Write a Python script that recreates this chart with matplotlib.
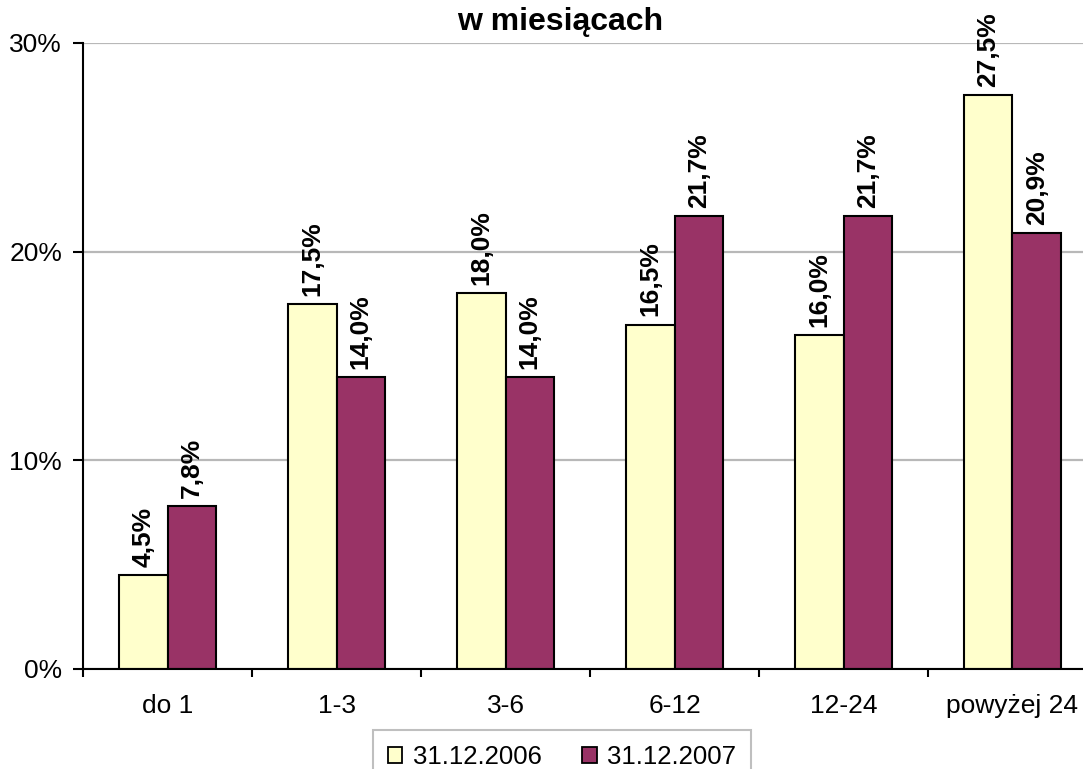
import matplotlib
matplotlib.use("Agg")
import matplotlib.pyplot as plt
import numpy as np

categories = ["do 1", "1-3", "3-6", "6-12", "12-24", "powyżej 24"]
series_names = ["31.12.2006", "31.12.2007"]
values_2006 = [4.5, 17.5, 18.0, 16.5, 16.0, 27.5]
values_2007 = [7.8, 14.0, 14.0, 21.7, 21.7, 20.9]
yticks = [0, 10, 20, 30]
ytick_labels = ["0%", "10%", "20%", "30%"]

plt.rcParams['font.family'] = ['Liberation Sans', 'DejaVu Sans']

W, H = 1083, 769
fig = plt.figure(figsize=(W / 100, H / 100), dpi=100)
left, right, top, bottom = 83, 83 + 6 * 169, 43, 669
ax = fig.add_axes([left / W, 1 - bottom / H, (right - left) / W, (bottom - top) / H])

x = np.arange(len(categories))
bw = 0.287
colors = ["#FFFFCC", "#993366"]
for i, (vals, c, name) in enumerate(zip([values_2006, values_2007], colors, series_names)):
    xs = x - bw / 2 + i * bw
    ax.bar(xs, vals, width=bw, color=c, edgecolor="black", linewidth=1.5, label=name, zorder=3)
    for xi, v in zip(xs, vals):
        ax.annotate(f"{v:.1f}%".replace(".", ","), (xi, v), xytext=(0, 6), textcoords="offset points",
                    rotation=90, ha="center", va="bottom", fontsize=19, fontweight="bold",
                    zorder=4, annotation_clip=False)

ax.set_xlim(-0.5, len(categories) - 0.5)
ax.set_ylim(0, 30)
ax.set_yticks(yticks)
ax.set_yticklabels(ytick_labels, fontsize=19)
ax.set_xticks(x)
ax.set_xticklabels(categories, fontsize=19)
ax.tick_params(axis="x", length=0, pad=18)
ax.set_xticks(np.arange(-0.5, len(categories)), minor=True)
ax.tick_params(axis="x", which="minor", length=6, width=1.5, direction="out")
ax.tick_params(axis="y", length=7, width=1.5, direction="out", pad=8)
ax.yaxis.grid(True, color="#B8B8B8", linewidth=1.6, zorder=0)
ax.set_axisbelow(True)
for s in ["top", "right"]:
    ax.spines[s].set_visible(False)
for s in ["left", "bottom"]:
    ax.spines[s].set_linewidth(1.5)
    ax.spines[s].set_zorder(5)

fig.text(560 / W, 1 - 30 / H, "w miesiącach", ha="center", va="baseline", fontsize=23, fontweight="bold")

leg = fig.legend(loc="center", bbox_to_anchor=(562 / W, 1 - 757 / H), ncol=2, frameon=True,
                 fontsize=18.5, fancybox=False, edgecolor="#B0B0B0", handlelength=0.55, handleheight=0.55,
                 handletextpad=0.4, columnspacing=1.6, borderpad=0.6, borderaxespad=0)
leg.get_frame().set_linewidth(1.5)
for h in leg.legend_handles:
    h.set_linewidth(1.3)

fig.savefig("out.png", dpi=100)
